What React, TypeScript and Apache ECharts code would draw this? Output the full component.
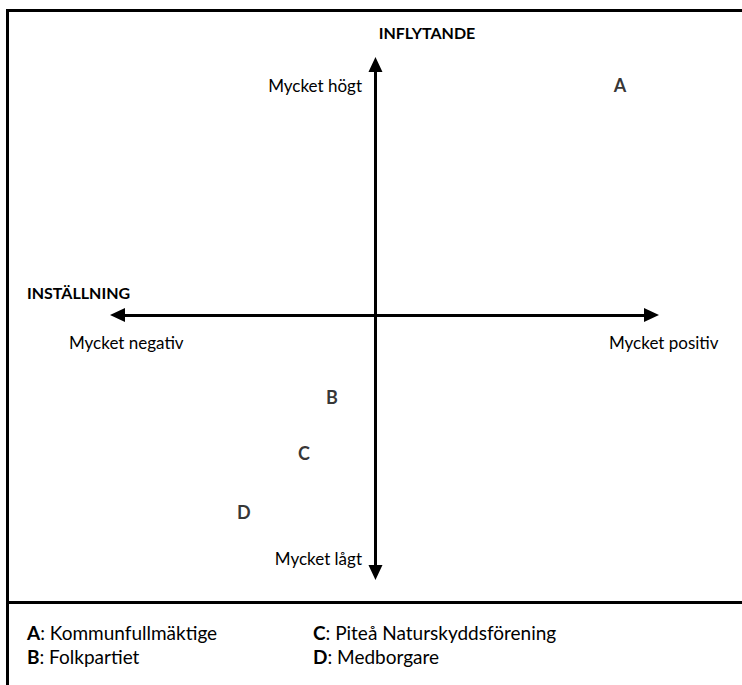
import React, { useEffect, useRef } from "react";
import * as echarts from "echarts";

// Actors placed on the influence (y) / attitude (x) map
const actorCodes = ["A", "B", "C", "D"];
const actorNames = ["Kommunfullmäktige", "Folkpartiet", "Piteå Naturskyddsförening", "Medborgare"];
const attitude = [9.48, -1.69, -2.77, -5.1]; // Inställning
const influence = [9.18, -3.27, -5.51, -7.86]; // Inflytande

const xRange = [-10, 10.7];
const yRange = [-10.28, 10];

const axisTitles = ["INFLYTANDE", "INSTÄLLNING"];
const endLabels = ["Mycket högt", "Mycket lågt", "Mycket negativ", "Mycket positiv"];

const FONT = "Lato, 'Noto Sans', sans-serif";

export default function App() {
  const ref = useRef<HTMLDivElement>(null);
  useEffect(() => {
    if (!ref.current) return;
    const chart = echarts.init(ref.current, null, { renderer: "svg" });
    const axisLine = {
      show: true,
      onZero: true,
      symbol: ["triangle", "triangle"],
      symbolSize: [14, 15],
      lineStyle: { color: "#000", width: 3 },
    };
    const legendItems = actorCodes.map((c, i) => ({
      type: "text",
      x: i < 2 ? 27 : 313,
      y: i % 2 === 0 ? 632 : 656,
      style: {
        text: `{b|${c}}: ${actorNames[i]}`,
        font: `19px ${FONT}`,
        fill: "#000",
        verticalAlign: "middle",
        rich: { b: { fontWeight: "bold", fontSize: 19, fontFamily: FONT, fill: "#000" } },
      },
    }));
    const plain = (text: string, x: number, y: number, align: string) => ({
      type: "text",
      x,
      y,
      style: { text, font: `17px ${FONT}`, fill: "#000", align, verticalAlign: "middle" },
    });
    chart.setOption({
      animation: false,
      backgroundColor: "#fff",
      grid: { left: 117.5, right: 742 - 651.5, top: 64.5, bottom: 685 - 572.5, containLabel: false },
      xAxis: {
        type: "value",
        min: xRange[0],
        max: xRange[1],
        axisLine,
        axisTick: { show: false },
        axisLabel: { show: false },
        splitLine: { show: false },
      },
      yAxis: {
        type: "value",
        min: yRange[0],
        max: yRange[1],
        axisLine,
        axisTick: { show: false },
        axisLabel: { show: false },
        splitLine: { show: false },
      },
      series: [
        {
          type: "scatter",
          symbolSize: 0,
          data: actorCodes.map((c, i) => ({ name: c, value: [attitude[i], influence[i]] })),
          label: {
            show: true,
            position: "inside",
            formatter: "{b}",
            color: "#000",
            fontFamily: FONT,
            fontWeight: "bold",
            fontSize: 18,
          },
        },
      ],
      graphic: [
        {
          type: "rect",
          shape: { x: 7.5, y: 10.5, width: 900, height: 900 },
          style: { fill: "none", stroke: "#000", lineWidth: 3 },
          silent: true,
        },
        {
          type: "line",
          shape: { x1: 7.5, y1: 602.5, x2: 742, y2: 602.5 },
          style: { stroke: "#000", lineWidth: 3 },
        },
        {
          type: "text",
          x: 427,
          y: 32,
          style: { text: axisTitles[0], font: `bold 16px ${FONT}`, fill: "#000", align: "center", verticalAlign: "middle" },
        },
        {
          type: "text",
          x: 27,
          y: 292,
          style: { text: axisTitles[1], font: `bold 16px ${FONT}`, fill: "#000", align: "left", verticalAlign: "middle" },
        },
        plain(endLabels[0], 362, 85, "right"),
        plain(endLabels[1], 362, 558, "right"),
        plain(endLabels[2], 69, 342, "left"),
        plain(endLabels[3], 609, 342, "left"),
        ...legendItems,
      ],
    });
    return () => chart.dispose();
  }, []);
  return (
    <div
      ref={ref}
      style={{ position: "absolute", left: 0, top: 0, width: 742, height: 685 }}
    />
  );
}
